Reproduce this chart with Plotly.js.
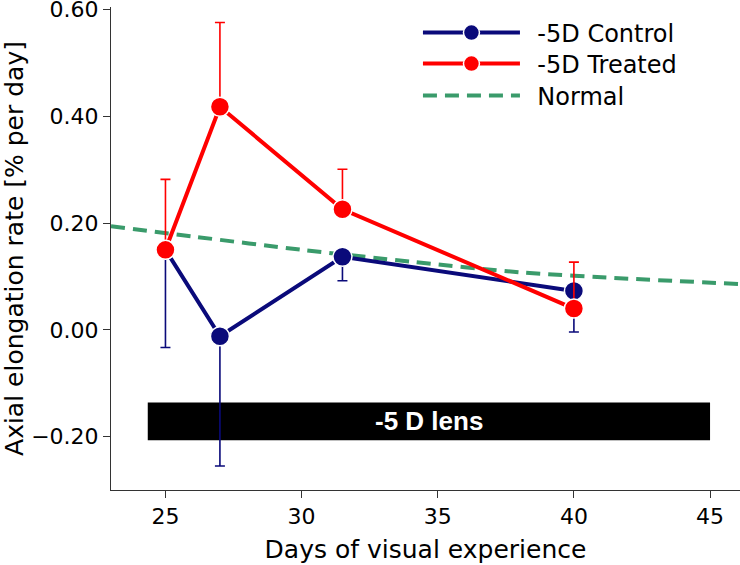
<!DOCTYPE html>
<html>
<head>
<meta charset="utf-8">
<script src="https://cdn.plot.ly/plotly-3.0.1.min.js"></script>
<style>html,body{margin:0;padding:0;background:#fff;}#chart{width:740px;height:565px;}</style>
</head>
<body>
<div id="chart"></div>
<script>
// Days of visual experience
const days = [25, 27, 31.5, 40];
// -5D Control
const controlRate = [0.150, -0.012, 0.137, 0.073];
const controlErrMinus = [0.183, 0.243, 0.045, 0.077];
// -5D Treated
const treatedRate = [0.150, 0.418, 0.226, 0.040];
const treatedErrPlus = [0.132, 0.158, 0.075, 0.087];
// Normal (reference growth curve)
const normalDays = [23, 26, 30, 34, 38, 42, 46.1];
const normalRate = [0.194, 0.175, 0.150, 0.128, 0.108, 0.096, 0.086];
// Lens-wear period bar
const lensDays = [24.35, 45];
const lensBand = [-0.207, -0.136];
const lensLabel = "-5 D lens";
// Axis ticks
const yTicks = [-0.2, 0, 0.2, 0.4, 0.6];
const xTicks = [25, 30, 35, 40, 45];

const zeros = days.map(() => 0);
const pad = "\u00a0\u2009";

const traces = [
  {
    x: normalDays, y: normalRate, name: pad + "Normal", mode: "lines",
    line: {color: "#3a9b6b", width: 4, dash: "14px,8px", shape: "spline", smoothing: 0.8},
    legend: "legend3"
  },
  {
    x: days, y: controlRate, name: pad + "-5D Control", mode: "lines+markers",
    line: {color: "#0a0a7a", width: 4},
    marker: {color: "#0a0a7a", size: 19, line: {color: "#ffffff", width: 1.5}},
    error_y: {type: "data", symmetric: false, array: zeros, arrayminus: controlErrMinus,
              color: "#0a0a7a", thickness: 1.6, width: 5},
    legend: "legend"
  },
  {
    x: days, y: treatedRate, name: pad + "-5D Treated", mode: "lines+markers",
    line: {color: "#ff0000", width: 4},
    marker: {color: "#ff0000", size: 19, line: {color: "#ffffff", width: 1.5}},
    error_y: {type: "data", symmetric: false, array: treatedErrPlus, arrayminus: zeros,
              color: "#ff0000", thickness: 1.6, width: 5},
    legend: "legend2"
  }
];

function legendAt(yPaper) {
  return {
    x: 0.488, y: yPaper, xanchor: "left", yanchor: "middle",
    bgcolor: "rgba(0,0,0,0)", borderwidth: 0,
    font: {family: "DejaVu Sans", size: 24, color: "#000"},
    itemwidth: 97, tracegroupgap: 0
  };
}

const layout = {
  width: 740, height: 565,
  margin: {l: 111, r: 0, t: 7, b: 75},
  paper_bgcolor: "#ffffff", plot_bgcolor: "#ffffff",
  font: {family: "DejaVu Sans", size: 22, color: "#000"},
  showlegend: true,
  legend: legendAt(0.9462),
  legend2: legendAt(0.8820),
  legend3: legendAt(0.8157),
  xaxis: {
    range: [23, 46.1], tickvals: xTicks, ticks: "outside", ticklen: 7, tickwidth: 1,
    tickcolor: "#333", showline: true, linecolor: "#333", linewidth: 1,
    showgrid: false, zeroline: false, mirror: false,
    tickfont: {size: 22}, ticklabeloverflow: "allow",
    title: {text: "Days of visual experience", font: {size: 25}, standoff: 12}
  },
  yaxis: {
    range: [-0.3, 0.605], tickvals: yTicks, tickformat: ".2f", ticks: "outside", ticklen: 7, tickwidth: 1,
    tickcolor: "#333", showline: true, linecolor: "#333", linewidth: 1,
    showgrid: false, zeroline: false,
    tickfont: {size: 22}, ticklabeloverflow: "allow",
    title: {text: "Axial elongation rate [% per day]", font: {size: 25}, standoff: 6}
  },
  shapes: [{
    type: "rect", xref: "x", yref: "y", layer: "below",
    x0: lensDays[0], x1: lensDays[1], y0: lensBand[0], y1: lensBand[1],
    fillcolor: "#000", line: {width: 0}
  }],
  annotations: [{
    xref: "x", yref: "y", x: (lensDays[0] + lensDays[1]) / 2, y: (lensBand[0] + lensBand[1]) / 2,
    text: "<b>" + lensLabel + "</b>", showarrow: false,
    font: {family: "Liberation Sans", size: 26, color: "#fff"}
  }]
};

Plotly.newPlot("chart", traces, layout, {displayModeBar: false, staticPlot: true});
</script>
</body>
</html>
